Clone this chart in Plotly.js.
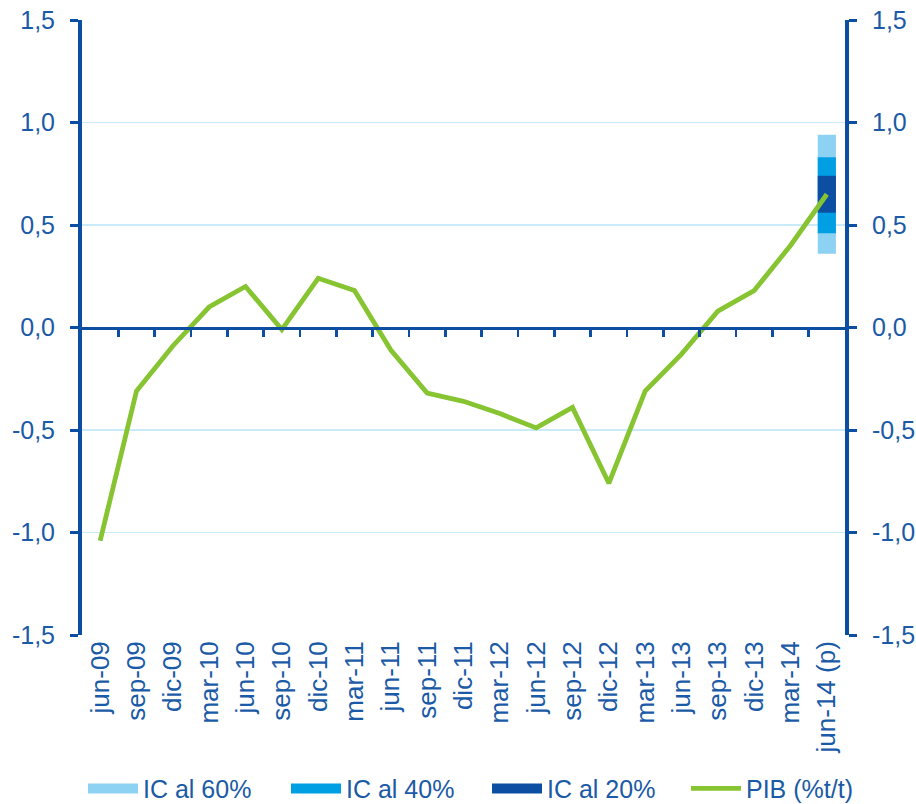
<!DOCTYPE html>
<html>
<head>
<meta charset="utf-8">
<script src="https://cdn.plot.ly/plotly-3.0.1.min.js"></script>
<style>
  html, body { margin: 0; padding: 0; background: #ffffff; }
  #chart { width: 916px; height: 804px; }
</style>
</head>
<body>
<div id="chart"></div>
<script>
const categories = [
  "jun-09", "sep-09", "dic-09", "mar-10", "jun-10", "sep-10", "dic-10",
  "mar-11", "jun-11", "sep-11", "dic-11", "mar-12", "jun-12", "sep-12",
  "dic-12", "mar-13", "jun-13", "sep-13", "dic-13", "mar-14", "jun-14 (p)"
];

const pib = [
  -1.04, -0.31, -0.09, 0.10, 0.20, -0.01, 0.24,
  0.18, -0.11, -0.32, -0.36, -0.42, -0.49, -0.39,
  -0.76, -0.31, -0.13, 0.08, 0.18, 0.40, 0.65
];

// intervals of confidence for the last quarter: [low, high]
const ic60 = [0.36, 0.94];
const ic40 = [0.46, 0.83];
const ic20 = [0.56, 0.74];

const yTickVals = [-1.5, -1.0, -0.5, 0, 0.5, 1.0, 1.5];
const yTickText = ["-1,5", "-1,0", "-0,5", "0,0", "0,5", "1,0", "1,5"];

const AXIS_BLUE = "#0b4ea2";
const TEXT_BLUE = "#1a5aa6";
const GRID_BLUE = "#c9eaf8";
const GREEN = "#86c431";
const IC_COLORS = { c60: "#8dd2f2", c40: "#009fe3", c20: "#0b4ea2" };
const FONT_SIZE = 25;
const LABEL_SIZE = 26;

const lastCat = categories[categories.length - 1];

const band = (range, color, name) => ({
  x: [lastCat],
  y: [range[1] - range[0]],
  base: [range[0]],
  type: "bar",
  width: 0.5,
  marker: { color: color, line: { width: 0 } },
  name: name,
  showlegend: false,
  hoverinfo: "skip"
});

const legendSwatch = (color, name, legendId) => ({
  x: [null],
  y: [null],
  type: "scatter",
  mode: "lines",
  line: { color: color, width: 14 },
  name: name,
  legend: legendId,
  showlegend: true
});

const data = [
  band(ic60, IC_COLORS.c60, "IC al 60%"),
  band(ic40, IC_COLORS.c40, "IC al 40%"),
  band(ic20, IC_COLORS.c20, "IC al 20%"),
  legendSwatch(IC_COLORS.c60, "IC al 60%", "legend"),
  legendSwatch(IC_COLORS.c40, "IC al 40%", "legend2"),
  legendSwatch(IC_COLORS.c20, "IC al 20%", "legend3"),
  {
    x: categories,
    y: pib,
    type: "scatter",
    mode: "lines",
    line: { color: GREEN, width: 4.8 },
    name: "PIB (%t/t)",
    legend: "legend4"
  }
];

// one legend box per entry, so each one sits where the reference has it
const legendAt = (px) => ({
  orientation: "h",
  xref: "container",
  yref: "container",
  x: px / 916,
  xanchor: "left",
  y: 0.019,
  yanchor: "middle",
  itemwidth: 50,
  bgcolor: "rgba(0,0,0,0)",
  font: { size: FONT_SIZE, color: TEXT_BLUE }
});

const layout = {
  width: 916,
  height: 804,
  margin: { l: 82, r: 71, t: 20, b: 169 },
  paper_bgcolor: "#ffffff",
  plot_bgcolor: "#ffffff",
  font: { family: "Liberation Sans, Arial, sans-serif", size: FONT_SIZE, color: TEXT_BLUE },
  barmode: "overlay",
  showlegend: true,
  legend: legendAt(83),
  legend2: legendAt(286),
  legend3: legendAt(487),
  legend4: legendAt(686),
  xaxis: {
    type: "category",
    categoryarray: categories,
    range: [-0.5, categories.length - 0.5],
    tickangle: -90,
    showline: false,
    showgrid: false,
    zeroline: false,
    ticks: "",
    automargin: false,
    tickfont: { size: LABEL_SIZE, color: TEXT_BLUE }
  },
  xaxis2: {
    overlaying: "x",
    anchor: "free",
    position: 0.5,
    range: [-0.5, categories.length - 0.5],
    tickvals: categories.slice(0, -1).map((_, i) => i + 0.5),
    showticklabels: false,
    showgrid: false,
    zeroline: false,
    showline: true,
    linecolor: AXIS_BLUE,
    linewidth: 3,
    ticks: "outside",
    ticklen: 7,
    tickwidth: 2.5,
    tickcolor: AXIS_BLUE
  },
  yaxis: {
    range: [-1.5, 1.5],
    tickvals: yTickVals,
    ticktext: yTickText,
    showgrid: true,
    gridcolor: GRID_BLUE,
    gridwidth: 1.5,
    zeroline: false,
    showline: true,
    linecolor: AXIS_BLUE,
    linewidth: 4,
    ticks: "outside",
    ticklen: 8,
    tickwidth: 3,
    tickcolor: AXIS_BLUE,
    ticklabelstandoff: 10,
    automargin: false,
    tickfont: { size: FONT_SIZE, color: TEXT_BLUE }
  },
  yaxis2: {
    overlaying: "y",
    side: "right",
    anchor: "x",
    range: [-1.5, 1.5],
    tickvals: yTickVals,
    ticktext: yTickText,
    showgrid: false,
    zeroline: false,
    showline: true,
    linecolor: AXIS_BLUE,
    linewidth: 4,
    ticks: "outside",
    ticklen: 8,
    tickwidth: 3,
    tickcolor: AXIS_BLUE,
    ticklabelstandoff: 10,
    automargin: false,
    tickfont: { size: FONT_SIZE, color: TEXT_BLUE }
  }
};

// dummy trace so the right-hand axis and zero-line axis get drawn
data.push({ x: [0], y: [null], xaxis: "x2", yaxis: "y2", type: "scatter", mode: "lines", showlegend: false, hoverinfo: "skip" });

Plotly.newPlot("chart", data, layout, { displayModeBar: false, staticPlot: true });
</script>
</body>
</html>
